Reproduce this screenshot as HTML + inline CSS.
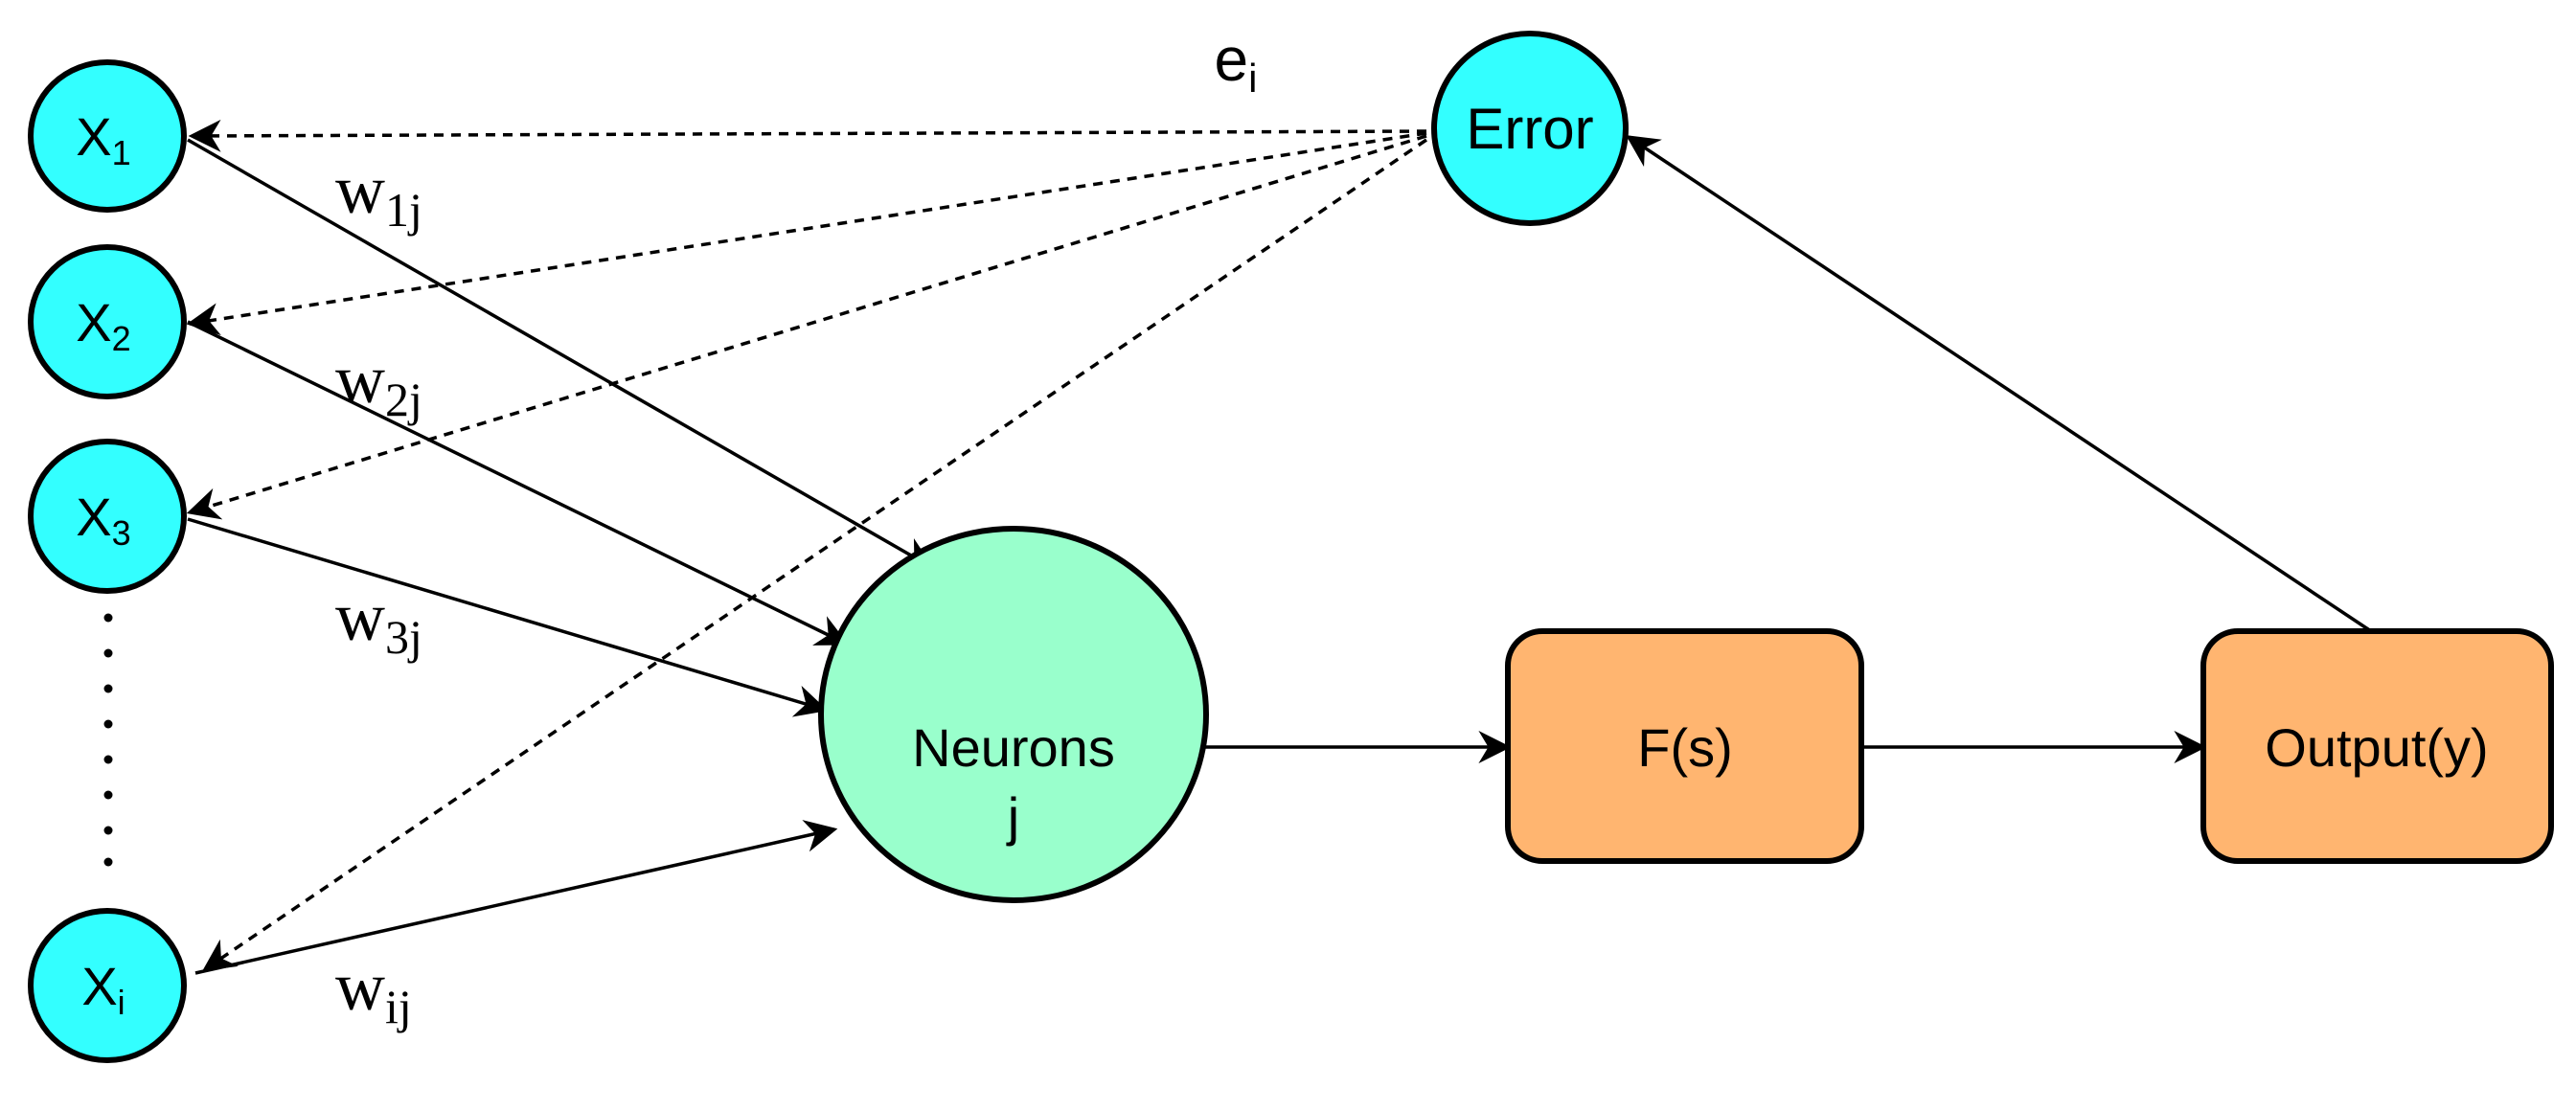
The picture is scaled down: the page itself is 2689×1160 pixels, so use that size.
<!DOCTYPE html>
<html><head><meta charset="utf-8"><style>
html,body{margin:0;padding:0;background:#fff;}
svg{display:block}
.s{font-family:"Liberation Sans",sans-serif;}
.r{font-family:"Liberation Serif",serif;}
</style></head><body>
<svg width="2689" height="1160" viewBox="0 0 2689 1160" xmlns="http://www.w3.org/2000/svg">
<defs>
<marker id="ar" viewBox="0 0 10 10" refX="9" refY="5" markerWidth="34" markerHeight="34" markerUnits="userSpaceOnUse" orient="auto">
<path d="M0,0 L10,5 L0,10 L3,5 z" fill="#000"/>
</marker>
</defs>
<g stroke="#000" stroke-width="3.5" fill="none" stroke-dasharray="10,8">
<line x1="1489" y1="137" x2="200" y2="142" marker-end="url(#ar)"/>
<line x1="1489" y1="139" x2="198" y2="338" marker-end="url(#ar)"/>
<line x1="1489" y1="142" x2="198" y2="535" marker-end="url(#ar)"/>
<line x1="1489" y1="146" x2="214" y2="1012" marker-end="url(#ar)"/>
</g>
<g stroke="#000" stroke-width="3.5" fill="none">
<line x1="196" y1="146" x2="972" y2="592" marker-end="url(#ar)"/>
<line x1="196" y1="336" x2="883" y2="672" marker-end="url(#ar)"/>
<line x1="196" y1="542" x2="861" y2="741" marker-end="url(#ar)"/>
<line x1="204" y1="1016" x2="871" y2="866" marker-end="url(#ar)"/>
<line x1="1258" y1="780" x2="1574" y2="780" marker-end="url(#ar)"/>
<line x1="1943" y1="780" x2="2300" y2="780" marker-end="url(#ar)"/>
<line x1="2475" y1="659" x2="1700" y2="143" marker-end="url(#ar)"/>
</g>
<g stroke="#000" stroke-width="6" fill="#33ffff">
<ellipse cx="112" cy="142" rx="80" ry="77"/>
<ellipse cx="112" cy="336" rx="80" ry="78"/>
<ellipse cx="112" cy="539" rx="80" ry="78"/>
<ellipse cx="112" cy="1029" rx="80" ry="78"/>
<ellipse cx="1597" cy="134" rx="100" ry="99"/>
<ellipse cx="1058" cy="746" rx="201" ry="194" fill="#99ffcc"/>
<rect x="1574" y="659" width="369" height="240" rx="36" fill="#ffb570"/>
<rect x="2300" y="659" width="363" height="240" rx="36" fill="#ffb570"/>
</g>
<g fill="#000">
<circle cx="113" cy="645" r="4.5"/><circle cx="113" cy="682" r="4.5"/><circle cx="113" cy="719" r="4.5"/><circle cx="113" cy="756" r="4.5"/><circle cx="113" cy="793" r="4.5"/><circle cx="113" cy="830" r="4.5"/><circle cx="113" cy="867" r="4.5"/><circle cx="113" cy="900" r="4.5"/>
</g>
<g class="s" font-size="56" fill="#000" text-anchor="middle">
<text x="108" y="162">X<tspan font-size="36" dy="10">1</tspan></text>
<text x="108" y="356">X<tspan font-size="36" dy="10">2</tspan></text>
<text x="108" y="559">X<tspan font-size="36" dy="10">3</tspan></text>
<text x="108" y="1049">X<tspan font-size="36" dy="10">i</tspan></text>
<text x="1597" y="155" font-size="60">Error</text>
<text x="1058" y="800">Neurons</text>
<text x="1058" y="872">j</text>
<text x="1759" y="800">F(s)</text>
<text x="2481" y="800">Output(y)</text>
<text x="1290" y="84" font-size="64">e<tspan font-size="42" dy="12">i</tspan></text>
</g>
<g class="r" font-size="72" fill="#000">
<text x="350" y="222">w<tspan font-size="50" dy="14">1j</tspan></text>
<text x="350" y="420">w<tspan font-size="50" dy="14">2j</tspan></text>
<text x="350" y="668">w<tspan font-size="50" dy="14">3j</tspan></text>
<text x="350" y="1054">w<tspan font-size="50" dy="14">ij</tspan></text>
</g>
</svg>
</body></html>
